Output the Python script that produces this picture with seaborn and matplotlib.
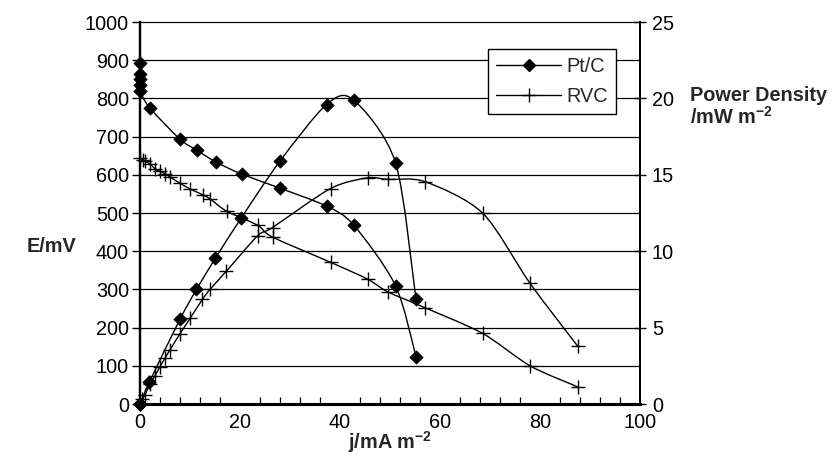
import numpy as np
import matplotlib
matplotlib.use("Agg")
import matplotlib.pyplot as plt
from matplotlib.path import Path
from matplotlib.patches import PathPatch
from matplotlib.lines import Line2D
from matplotlib.ticker import MultipleLocator
import seaborn as sns

# Pt/C cathode: current density (mA m-2), cell voltage (mV), power density (mW m-2)
ptc_current = [0, 0, 0, 0, 0, 1.9, 8, 11.3, 15.1, 20.3, 28, 37.3, 42.7, 51.1, 55.2]
ptc_voltage = [892, 865, 850, 836, 820, 776, 693, 665, 634, 602, 565, 518, 469, 310, 124]
ptc_power = [0, 0, 0, 0, 0, 1.45, 5.55, 7.5, 9.55, 12.2, 15.9, 19.6, 19.9, 15.8, 6.85]

# RVC cathode
rvc_current = [0, 0.5, 1.0, 2, 3, 4, 5, 6, 8, 10, 12.5, 14, 17.3, 23.5, 26.5,
               38.1, 45.5, 49.5, 57, 68.5, 78, 87.5]
rvc_voltage = [645, 640, 636, 628, 616, 609, 603, 594, 578, 563, 548, 537, 505, 468, 437,
               371, 327, 294, 252, 185, 100, 45]
rvc_power = [0, 0.3, 0.6, 1.3, 1.85, 2.45, 3.0, 3.55, 4.6, 5.6, 6.85, 7.5, 8.7, 11.0, 11.55,
             14.1, 14.8, 14.7, 14.55, 12.5, 7.9, 3.8]

series_names = ["Pt/C", "RVC"]
x_ticks = [0, 20, 40, 60, 80, 100]
left_ticks = list(range(0, 1001, 100))
right_ticks = [0, 5, 10, 15, 20, 25]

sns.set_style("white")
plt.rcParams["font.family"] = ["Liberation Sans", "DejaVu Sans"]
plt.rcParams["mathtext.fontset"] = "custom"
plt.rcParams["mathtext.rm"] = "Liberation Sans"
plt.rcParams["mathtext.bf"] = "Liberation Sans:bold"

FS = 14.3


def smooth_path(x, y, k=1 / 7):
    """Smoothed polyline through the given points, built from cubic Bezier segments."""
    pts = np.column_stack([x, y]).astype(float)
    n = len(pts)
    verts = [pts[0]]
    codes = [Path.MOVETO]
    for i in range(n - 1):
        p0 = pts[i - 1] if i > 0 else pts[i]
        p1 = pts[i]
        p2 = pts[i + 1]
        p3 = pts[i + 2] if i + 2 < n else pts[i + 1]
        verts += [p1 + (p2 - p0) * k, p2 - (p3 - p1) * k, p2]
        codes += [Path.CURVE4] * 3
    return Path(verts, codes)


fig = plt.figure(figsize=(8.39, 4.68), dpi=100)
ax = fig.add_axes([140 / 839, 1 - 404 / 468, 500 / 839, 382 / 468])
ax2 = ax.twinx()

ax.set_xlim(0, 100)
ax.set_ylim(0, 1000)
ax2.set_ylim(0, 25)

# horizontal grid lines every 100 mV
for v in left_ticks:
    ax.axhline(v, color="black", lw=0.9, zorder=1, clip_on=False)

line_kw = dict(fill=False, edgecolor="black", lw=1.0, zorder=3)
ax.add_patch(PathPatch(smooth_path(ptc_current, ptc_voltage), **line_kw))
ax.add_patch(PathPatch(smooth_path(rvc_current, rvc_voltage), **line_kw))
ax2.add_patch(PathPatch(smooth_path(ptc_current, ptc_power), **line_kw))
ax2.add_patch(PathPatch(smooth_path(rvc_current, rvc_power), **line_kw))

diamond_kw = dict(marker="D", s=46, color="black", edgecolor="black", linewidth=0.5,
                  zorder=4, clip_on=False, legend=False)
plus_kw = dict(marker="+", s=115, color="black", linewidth=1.0, zorder=4,
               clip_on=False, legend=False)
sns.scatterplot(x=ptc_current, y=ptc_voltage, ax=ax, **diamond_kw)
sns.scatterplot(x=rvc_current, y=rvc_voltage, ax=ax, **plus_kw)
sns.scatterplot(x=ptc_current, y=ptc_power, ax=ax2, **diamond_kw)
sns.scatterplot(x=rvc_current, y=rvc_power, ax=ax2, **plus_kw)

# axes, ticks and spines
ax.set_xticks(x_ticks)
ax.xaxis.set_minor_locator(MultipleLocator(4))
ax.set_yticks(left_ticks)
ax2.set_yticks(right_ticks)
ax.tick_params(axis="x", which="major", direction="inout", length=9, width=1.0,
               labelsize=FS, pad=2, colors="black")
ax.tick_params(axis="x", which="minor", direction="in", length=5, width=0.9,
               colors="black", bottom=True)
ax.tick_params(axis="y", direction="out", length=6, width=1.0, labelsize=FS, pad=2,
               colors="black", left=True)
ax2.tick_params(axis="y", direction="inout", length=9, width=1.0, labelsize=FS, pad=4,
                colors="black", right=True)

for a in (ax, ax2):
    a.spines["top"].set_visible(False)
    a.spines["left"].set_linewidth(1.6)
    a.spines["right"].set_linewidth(1.3)
    a.spines["bottom"].set_linewidth(2.2)
    for s in a.spines.values():
        s.set_color("black")
    a.set_xlabel("")
    a.set_ylabel("")

ax.set_zorder(2)
ax.patch.set_visible(False)
ax2.set_zorder(1)

# axis titles
fig.text(52 / 839, 1 - 247 / 468, "E/mV", fontsize=FS, fontweight="bold",
         ha="center", va="center")
fig.text(690 / 839, 1 - 101 / 468, "Power Density", fontsize=FS, fontweight="bold",
         ha="left", va="baseline")
fig.text(690 / 839, 1 - 124 / 468, r"/mW m$^{\mathbf{-2}}$", fontsize=FS,
         fontweight="bold", ha="left", va="baseline")
fig.text(390 / 839, 1 - 442 / 468, r"j/mA m$^{\mathbf{-2}}$", fontsize=FS,
         fontweight="bold", ha="center", va="center")

# legend
handles = [
    Line2D([], [], color="black", lw=1.0, marker="D", markersize=6.5, markerfacecolor="black"),
    Line2D([], [], color="black", lw=1.0, marker="+", markersize=10, markeredgewidth=1.0),
]
leg = ax.legend(handles, series_names, loc="upper left",
                bbox_to_anchor=(488 / 839, 1 - 49 / 468), bbox_transform=fig.transFigure,
                borderaxespad=0, frameon=True, fancybox=False, framealpha=1,
                edgecolor="black", fontsize=FS, handlelength=3.3, handletextpad=0.25,
                labelspacing=0.55, borderpad=0.4)
leg.get_frame().set_linewidth(1.0)
leg.set_zorder(10)

fig.savefig("out.png", dpi=100)
